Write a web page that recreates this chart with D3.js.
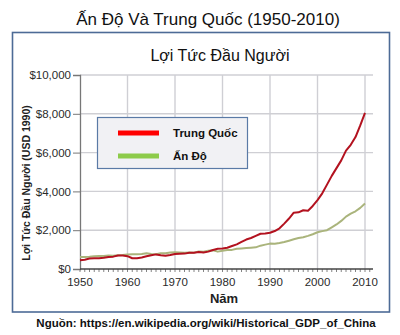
<!DOCTYPE html>
<html><head><meta charset="utf-8">
<script src="https://cdn.jsdelivr.net/npm/d3@7"></script>
<style>
html,body{margin:0;padding:0;background:#fff;}
svg{display:block;font-family:"Liberation Sans",Arial,sans-serif;}
</style></head>
<body>
<svg id="chart" width="400" height="335"></svg>
<script>
const years = d3.range(1950, 2011);
const china = [448,479,538,552,556,577,616,637,693,697,662,553,550,590,654,706,753,714,681,722,
  778,792,793,838,836,874,852,895,978,1039,1061,1095,1186,1270,1396,1519,1597,1706,1816,1827,
  1871,1956,2098,2340,2600,2900,2920,3030,3000,3250,3550,3900,4350,4800,5200,5600,6100,6400,6800,7400,8050];
const india = [619,623,629,662,671,676,701,680,715,717,753,758,758,779,813,771,762,807,817,850,
  868,856,839,853,844,897,889,937,966,895,938,977,985,1043,1060,1079,1101,1117,1203,1256,
  1309,1299,1341,1395,1460,1529,1600,1641,1706,1791,1892,1952,2000,2148,2297,2480,2700,2850,2975,3150,3380];
const xTicks = [1950,1960,1970,1980,1990,2000,2010];
const yTicks = [0,2000,4000,6000,8000,10000];
const seriesNames = ["Trung Quốc","Ấn Độ"];
const lineColors = ["#b3121f","#aab47c"];
const legendColors = ["#ff0000","#8dcb4a"];

const svg = d3.select("#chart");
const x = d3.scaleLinear().domain([1950,2010]).range([80,365]);
const y = d3.scaleLinear().domain([0,10000]).range([269,75]);
const xEnd = 373;

// outer frame
svg.append("rect").attr("x",12.5).attr("y",32.5).attr("width",377).attr("height",279.5)
  .attr("fill","none").attr("stroke","#4d6b96").attr("stroke-width",1.6);

// title
svg.append("text").attr("x",208).attr("y",25).attr("text-anchor","middle")
  .attr("font-size",17).attr("fill","#111").text("Ấn Độ Và Trung Quốc (1950-2010)");
svg.append("text").attr("x",220).attr("y",61).attr("text-anchor","middle")
  .attr("font-size",16).attr("fill","#111").text("Lợi Tức Đầu Người");

// grid
const g = svg.append("g");
g.selectAll(".hg").data(yTicks.filter(d=>d>0)).join("line")
  .attr("x1",80).attr("x2",xEnd).attr("y1",d=>y(d)).attr("y2",d=>y(d))
  .attr("stroke","#cfcfd4").attr("stroke-width",1.4);
g.selectAll(".vg").data(xTicks.filter(d=>d>1950)).join("line")
  .attr("x1",d=>x(d)).attr("x2",d=>x(d)).attr("y1",y(10000)).attr("y2",y(0))
  .attr("stroke","#cfcfd4").attr("stroke-width",1.4);

// y axis
const yAxis = svg.append("g").attr("transform","translate(80,0)")
  .call(d3.axisLeft(y).tickValues(yTicks).tickSize(7).tickPadding(2)
    .tickFormat(d=>"$"+d3.format(",")(d)));
yAxis.select(".domain").attr("stroke","#777").attr("stroke-width",1.3);
yAxis.selectAll(".tick line").attr("stroke","#777");
yAxis.selectAll("text").attr("font-size",11.5).attr("fill","#2a2a2a")
  .attr("font-family","Liberation Sans, Arial, sans-serif");

// x axis: minor ticks
const xAxisG = svg.append("g").attr("transform","translate(0,269)");
xAxisG.selectAll(".minor").data(d3.range(1950,2012)).join("line")
  .attr("x1",d=>x(d)).attr("x2",d=>x(d)).attr("y1",0).attr("y2",3)
  .attr("stroke","#666").attr("stroke-width",0.8);
xAxisG.append("line").attr("x1",80).attr("x2",xEnd).attr("y1",0).attr("y2",0)
  .attr("stroke","#444").attr("stroke-width",1.6);
xAxisG.selectAll(".lab").data(xTicks).join("text")
  .attr("x",d=>x(d)).attr("y",17).attr("text-anchor","middle")
  .attr("font-size",11.5).attr("fill","#2a2a2a").text(d=>d);

// axis titles
svg.append("text").attr("transform","translate(30,183) rotate(-90)")
  .attr("text-anchor","middle").attr("font-size",10.5).attr("font-weight","bold")
  .attr("fill","#222").text("Lợi Tức Đầu Người (USD 1990)");
svg.append("text").attr("x",224).attr("y",303).attr("text-anchor","middle")
  .attr("font-size",13).attr("font-weight","bold").attr("fill","#222").text("Năm");

// lines
const line = d3.line().x((d,i)=>x(years[i])).y(d=>y(d));
[india, china].forEach((s,k)=>{
  const idx = k===0 ? 1 : 0;
  svg.append("path").datum(s).attr("d",line).attr("fill","none")
    .attr("stroke",lineColors[idx]).attr("stroke-width",2)
    .attr("stroke-linejoin","round");
});

// legend
const lg = svg.append("g");
lg.append("rect").attr("x",97.5).attr("y",117.5).attr("width",150).attr("height",51)
  .attr("fill","#f1f1f4").attr("stroke","#5a7aa6").attr("stroke-width",1.2);
seriesNames.forEach((n,i)=>{
  const yy = 133 + i*23;
  lg.append("line").attr("x1",118).attr("x2",159).attr("y1",yy).attr("y2",yy)
    .attr("stroke",legendColors[i]).attr("stroke-width",5);
  lg.append("text").attr("x",173).attr("y",yy+4).attr("font-size",11.5)
    .attr("font-weight","bold").attr("fill","#111").text(n);
});

// source
svg.append("text").attr("x",206).attr("y",327).attr("text-anchor","middle")
  .attr("font-size",11.5).attr("font-weight","bold").attr("fill","#111")
  .text("Nguồn: https://en.wikipedia.org/wiki/Historical_GDP_of_China");
</script>
</body></html>
